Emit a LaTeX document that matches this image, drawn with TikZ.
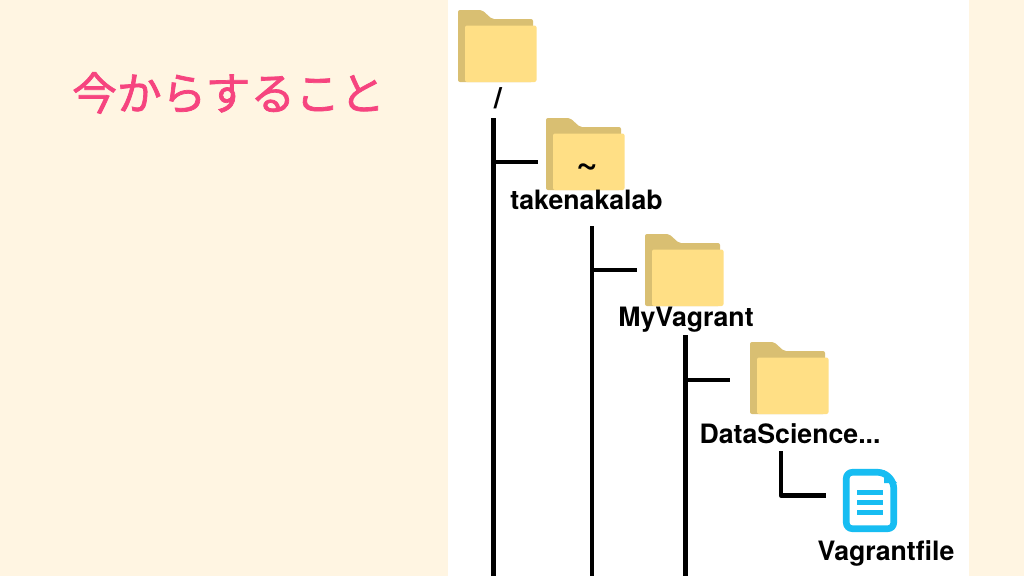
\documentclass[tikz,border=0pt]{standalone}
\usepackage{fontspec}
\setmainfont{TeX Gyre Heros}
\newfontfamily\cjk[FakeBold=1.6]{Noto Sans CJK JP}
\definecolor{bgcream}{HTML}{FFF5E2}
\definecolor{pinktxt}{HTML}{F6447F}
\definecolor{folderback}{HTML}{D9BF72}
\definecolor{folderfront}{HTML}{FFDF85}
\definecolor{fileblue}{HTML}{17BDF2}
\tikzset{
  x=0.75pt,y=-0.75pt,
  treeline/.style={line width=3.3pt,black},
  lbl/.style={font=\fontsize{20}{22}\selectfont\bfseries,inner sep=0,text=black,anchor=base},
  folder/.pic={
    \fill[folderback,rounded corners=1.5pt] (0,72) -- (0,0) -- (24,0) -- (34,9) -- (75,9) -- (75,20) -- (75,72) -- cycle;
    \fill[folderfront,rounded corners=1.5pt] (7,15.5) -- (78.5,15.5) -- (78.5,72) -- (7,72) -- cycle;
  }
}
\begin{document}
\begin{tikzpicture}
\useasboundingbox (0,0) rectangle (1024,576);
\fill[bgcream] (0,0) rectangle (1024,576);
\fill[white] (448,0) rectangle (969,576);
\node[font=\cjk\fontsize{33.6}{36}\selectfont,text=pinktxt,inner sep=0] (title) at (228.5,93) {今からすること};
\pic at (458,10) {folder};
\pic at (546,118) {folder};
\pic at (645,234) {folder};
\pic at (750,342) {folder};
\node[lbl,font=\fontsize{22}{24}\selectfont\bfseries] (root) at (498,108) {/};
\node[lbl,font=\fontsize{28}{30}\selectfont\bfseries] (home) at (587,175) {\textasciitilde};
\node[lbl] (taken) at (586.5,209) {takenakalab};
\node[lbl] (myv) at (686,326) {MyVagrant};
\node[lbl] (ds) at (790,443) {DataScience...};
\node[lbl] (vf) at (886,560) {Vagrantfile};
\coordinate (a0) at (493.5,118); \coordinate (a1) at (493.5,576); \coordinate (aj) at (493.5,162); \coordinate (ae) at (538,162);
\coordinate (b0) at (592,226); \coordinate (b1) at (592,576); \coordinate (bj) at (592,270); \coordinate (be) at (637,270);
\coordinate (c0) at (685.5,335); \coordinate (c1) at (685.5,576); \coordinate (cj) at (685.5,380); \coordinate (ce) at (730,380);
\coordinate (d0) at (781,451); \coordinate (dj) at (781,495.5); \coordinate (de) at (826,495.5);
\draw[treeline] (a0) -- (a1); \draw[treeline] (aj) -- (ae);
\draw[treeline] (b0) -- (b1); \draw[treeline] (bj) -- (be);
\draw[treeline] (c0) -- (c1); \draw[treeline] (cj) -- (ce);
\draw[treeline,line join=round] (d0) -- (dj) -- (de);
% file icon
\draw[fileblue,line width=5pt,line join=round,rounded corners=4.5pt] (846.3,472.3) -- (884,472.3) -- (893.7,482) -- (893.7,528.7) -- (846.3,528.7) -- cycle;
\fill[fileblue] (884,470) -- (897,483) -- (884,483) -- cycle;
\fill[fileblue] (857,490) rectangle (883,495);
\fill[fileblue] (857,500) rectangle (883,505);
\fill[fileblue] (857,509.5) rectangle (883,514.5);
\end{tikzpicture}
\end{document}
